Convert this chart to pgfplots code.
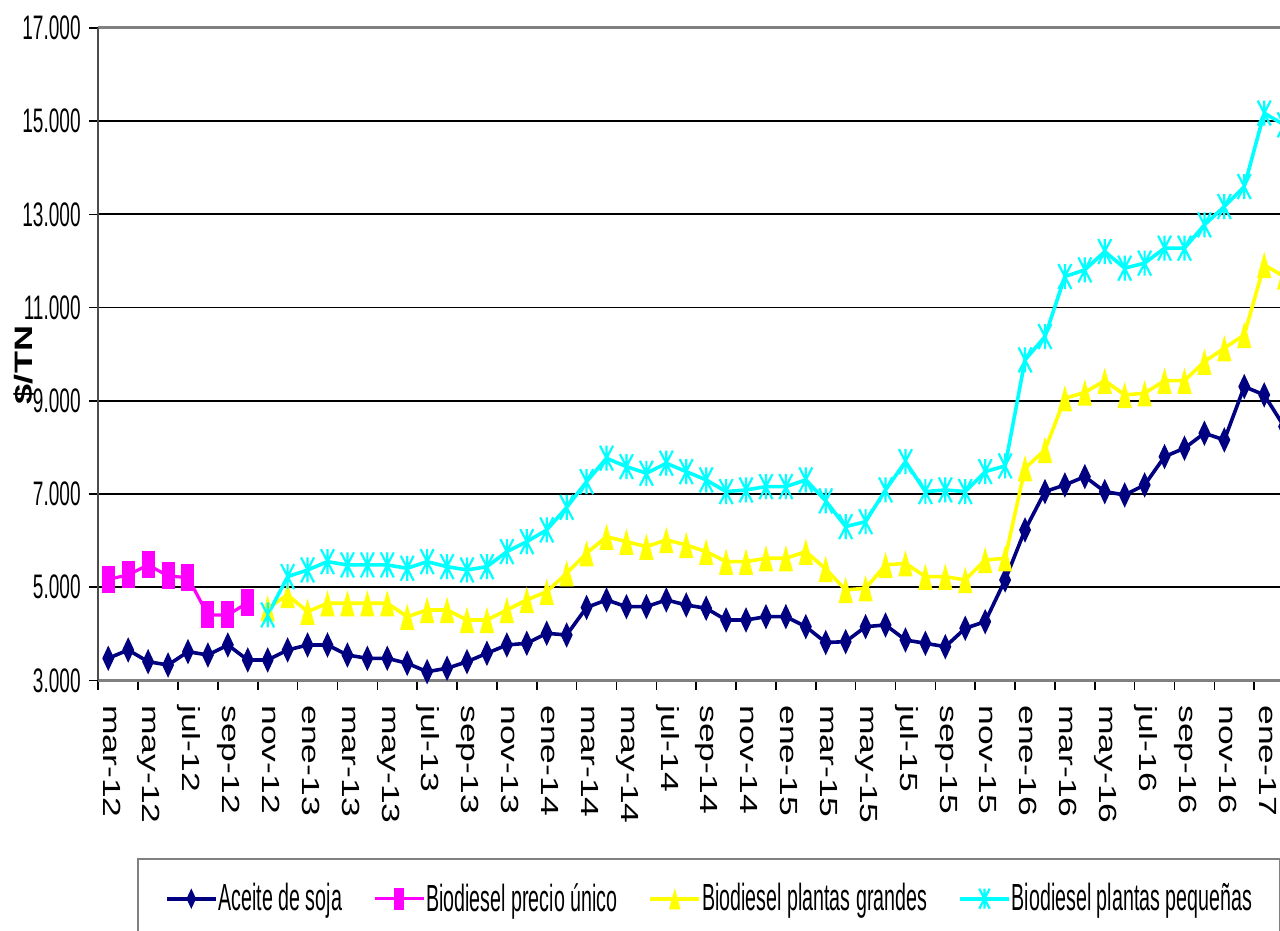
\documentclass[border=0pt]{standalone}
\usepackage{fontspec}
\setmainfont{Liberation Sans}
\newfontfamily\tickfont{Liberation Sans}[FakeStretch=0.56]
\newfontfamily\legfont{Liberation Sans}[FakeStretch=0.52]
\newfontfamily\rotfont{Liberation Sans}[FakeStretch=1.43]
\usepackage{pgfplots}
\pgfplotsset{compat=1.18}

\definecolor{cNavy}{RGB}{0,0,128}
\definecolor{cMag}{RGB}{255,0,255}
\definecolor{cYel}{RGB}{255,255,0}
\definecolor{cCya}{RGB}{0,255,255}

\pgfdeclareplotmark{xdiam}{%
  \pgfpathmoveto{\pgfqpoint{0pt}{6.4pt}}%
  \pgfpathlineto{\pgfqpoint{3pt}{0pt}}%
  \pgfpathlineto{\pgfqpoint{0pt}{-6.4pt}}%
  \pgfpathlineto{\pgfqpoint{-3pt}{0pt}}%
  \pgfpathclose\pgfusepathqfill}
\pgfdeclareplotmark{xsq}{%
  \pgfpathrectangle{\pgfqpoint{-3.25pt}{-6.75pt}}{\pgfqpoint{6.5pt}{13.5pt}}%
  \pgfusepathqfill}
\pgfdeclareplotmark{xtri}{%
  \pgfpathmoveto{\pgfqpoint{0pt}{6.6pt}}%
  \pgfpathlineto{\pgfqpoint{3.6pt}{-6.6pt}}%
  \pgfpathlineto{\pgfqpoint{-3.6pt}{-6.6pt}}%
  \pgfpathclose\pgfusepathqfill}
\pgfdeclareplotmark{xstar}{%
  \pgfpathmoveto{\pgfqpoint{-3.25pt}{-6.25pt}}\pgfpathlineto{\pgfqpoint{3.25pt}{6.25pt}}%
  \pgfpathmoveto{\pgfqpoint{-3.25pt}{6.25pt}}\pgfpathlineto{\pgfqpoint{3.25pt}{-6.25pt}}%
  \pgfpathmoveto{\pgfqpoint{0pt}{-6.25pt}}\pgfpathlineto{\pgfqpoint{0pt}{6.25pt}}%
  \pgfusepathqstroke}

\begin{document}
\begin{tikzpicture}
\begin{axis}[
  scale only axis, width=597.9pt, height=326.3pt,
  xmin=-0.5, xmax=59.5, ymin=3000, ymax=17000,
  clip=false,
  separate axis lines,
  x axis line style={draw=gray, line width=1.5pt},
  y axis line style={draw=black!70, line width=1pt},
  scaled y ticks=false,
  tick pos=left,
  ytick={3000,5000,...,17000},
  yticklabels={3.000,5.000,7.000,9.000,11.000,13.000,15.000,17.000},
  ymajorgrids, major grid style={black, line width=0.9pt},
  tick align=outside, major tick length=4.5pt,
  tick style={black, line width=0.8pt},
  xtick={-0.5,1.5,...,59.5}, xticklabels={},
  extra x ticks={0,2,...,58},
  extra x tick labels={mar-12,may-12,jul-12,sep-12,nov-12,ene-13,mar-13,may-13,jul-13,sep-13,nov-13,ene-14,mar-14,may-14,jul-14,sep-14,nov-14,ene-15,mar-15,may-15,jul-15,sep-15,nov-15,ene-16,mar-16,may-16,jul-16,sep-16,nov-16,ene-17},
  extra x tick style={major tick length=0pt},
  xticklabel style={font=\rotfont\fontsize{12.4}{12.4}\selectfont, rotate=-90, anchor=west, inner sep=0pt, text height=0.72em, text depth=0.2em},
  yticklabel style={font=\tickfont\fontsize{17}{17}\selectfont, anchor=east, inner sep=0pt},
  yticklabel shift=4.15pt,
  xticklabel shift=12.25pt,
  legend columns=4,
  legend image code/.code={\draw[mark repeat=2, mark phase=2, #1, every mark/.append style={scale=0.8}] plot coordinates {(0pt,0pt) (12.25pt,0pt) (24.5pt,0pt)};},
  legend style={at={(axis description cs:0,0)}, anchor=north west, xshift=19.2pt, yshift=-88.9pt,
    draw=gray, line width=1pt, fill=white, inner xsep=13.65pt, inner ysep=12pt,
    font=\legfont\fontsize{18.9}{22}\selectfont, legend cell align=left,
    /tikz/every even column/.append style={column sep=15.5pt},
    /tikz/every odd column/.append style={column sep=0.5pt},
    nodes={inner sep=0pt}},
]
\addplot[color=cNavy, line width=1.8pt, line join=round, mark=xdiam, mark options={solid}] coordinates {
(0,3476)(1,3655)(2,3403)(3,3333)(4,3618)(5,3547)(6,3762)(7,3440)(8,3440)(9,3655)(10,3762)(11,3762)(12,3547)(13,3476)(14,3476)(15,3369)(16,3189)(17,3262)(18,3403)(19,3584)(20,3762)(21,3798)(22,4013)(23,3976)(24,4567)(25,4728)(26,4584)(27,4584)(28,4728)(29,4620)(30,4549)(31,4298)(32,4298)(33,4369)(34,4369)(35,4155)(36,3815)(37,3833)(38,4155)(39,4191)(40,3869)(41,3798)(42,3725)(43,4120)(44,4262)(45,5157)(46,6230)(47,7052)(48,7195)(49,7374)(50,7052)(51,6981)(52,7195)(53,7803)(54,7983)(55,8305)(56,8161)(57,9305)(58,9127)(59,8447)};
\addlegendentry{Aceite de soja}
\addplot[color=cMag, line width=1.6pt, line join=round, mark=xsq, mark options={solid}] coordinates {
(0,5172)(1,5264)(2,5479)(3,5243)(4,5206)(5,4406)(6,4406)(7,4670)};
\addlegendentry{Biodiesel precio único}
\addplot[color=cYel, line width=1.8pt, line join=round, mark=xtri, mark options={solid}] coordinates {
(8,4549)(9,4835)(10,4476)(11,4657)(12,4657)(13,4657)(14,4657)(15,4369)(16,4513)(17,4513)(18,4298)(19,4298)(20,4513)(21,4728)(22,4906)(23,5300)(24,5730)(25,6086)(26,5979)(27,5871)(28,6015)(29,5908)(30,5764)(31,5549)(32,5549)(33,5622)(34,5622)(35,5764)(36,5393)(37,4942)(38,4979)(39,5479)(40,5515)(41,5228)(42,5228)(43,5157)(44,5586)(45,5622)(46,7554)(47,7947)(48,9056)(49,9180)(50,9432)(51,9127)(52,9163)(53,9432)(54,9432)(55,9841)(56,10129)(57,10414)(58,11917)(59,11666)};
\addlegendentry{Biodiesel plantas grandes}
\addplot[color=cCya, line width=1.8pt, line join=round, mark=xstar, mark options={solid, line width=1.1pt}] coordinates {
(8,4406)(9,5228)(10,5371)(11,5549)(12,5479)(13,5479)(14,5479)(15,5408)(16,5549)(17,5442)(18,5371)(19,5442)(20,5764)(21,5979)(22,6230)(23,6713)(24,7266)(25,7768)(26,7588)(27,7446)(28,7661)(29,7481)(30,7303)(31,7052)(32,7088)(33,7159)(34,7159)(35,7303)(36,6852)(37,6301)(38,6408)(39,7088)(40,7695)(41,7052)(42,7088)(43,7052)(44,7481)(45,7603)(46,9878)(47,10378)(48,11666)(49,11809)(50,12202)(51,11846)(52,11953)(53,12275)(54,12275)(55,12775)(56,13168)(57,13597)(58,15172)(59,14921)};
\addlegendentry{Biodiesel plantas pequeñas}
\end{axis}
\node[font=\rotfont\bfseries\fontsize{12.6}{12.6}\selectfont, rotate=90, inner sep=0pt] at (-37.15pt,157.75pt) {\$/TN};
\pgfresetboundingbox
\path[use as bounding box] (-49.15pt,-125.25pt) rectangle (590.85pt,340.25pt);
\end{tikzpicture}
\end{document}
